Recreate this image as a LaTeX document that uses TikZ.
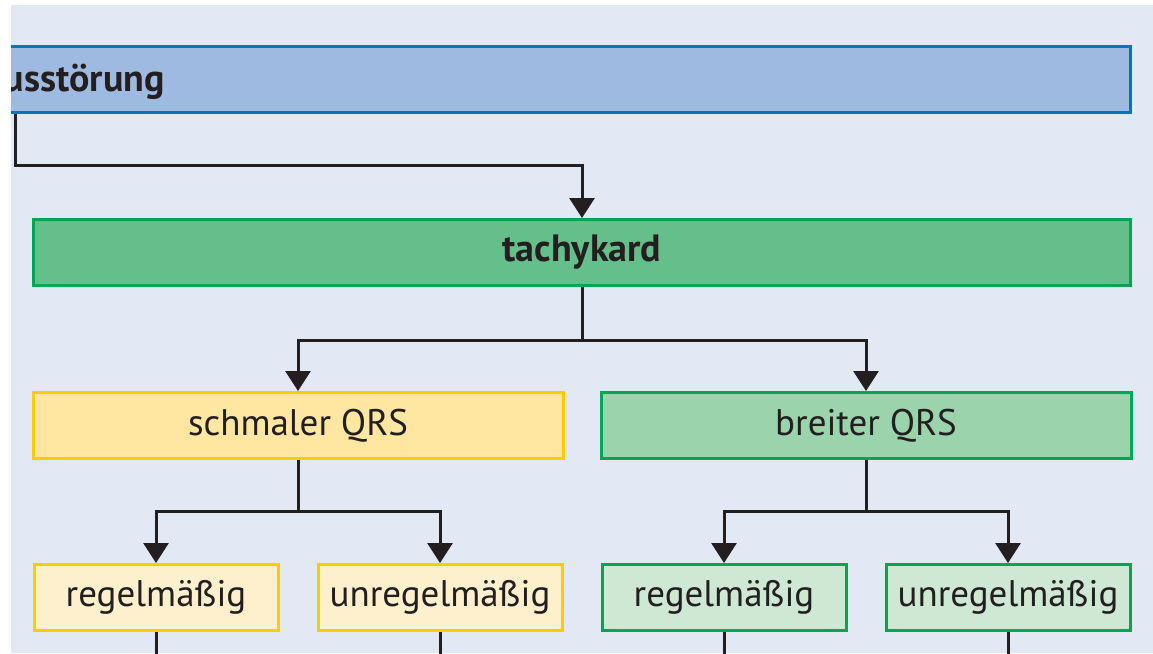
\documentclass[tikz,border=0pt]{standalone}
\usepackage{fontspec}
\setmainfont{PT Sans}
\usetikzlibrary{arrows.meta}

\definecolor{panel}{HTML}{E3E9F4}
\definecolor{ink}{HTML}{231F20}
\definecolor{blueline}{HTML}{0077C0}
\definecolor{bluefill}{HTML}{9EBAE0}
\definecolor{greenline}{HTML}{00A651}
\definecolor{greendark}{HTML}{64BF8A}
\definecolor{greenmid}{HTML}{9BD3AC}
\definecolor{greenlight}{HTML}{CEE8D4}
\definecolor{yellowline}{HTML}{FFCC00}
\definecolor{yellowmid}{HTML}{FFE6A1}
\definecolor{yellowlight}{HTML}{FFF0CD}

\tikzset{
  box/.style={draw, line width=3pt, inner sep=0pt, minimum height=66pt,
    text=ink, font=\fontsize{37}{44}\selectfont},
  boldtext/.style={font=\fontsize{38}{46}\selectfont\bfseries},
  greenbox/.style={box, draw=greenline},
  yellowbox/.style={box, draw=yellowline},
  link/.style={draw=ink, line width=3pt},
  arrowlink/.style={link, -{Triangle[width=25pt,length=20pt]}},
}

\begin{document}
\begin{tikzpicture}[x=1pt,y=-1pt]
  \useasboundingbox (0,0) rectangle (1153,653);
  \fill[white] (0,0) rectangle (1153,653);
  \fill[panel] (11,5) rectangle (1153,653);

  \begin{scope}
    \clip (11,5) rectangle (1153,653);

    % top level
    \node[box, draw=blueline, fill=bluefill, minimum width=1300pt] (rhythm) at (480,79.5) {};
    \node[anchor=base east, inner sep=0pt, text=ink, boldtext] (rhythmtext) at (165,91) {Rhythmusstörung};

    % second level
    \node[greenbox, fill=greendark, minimum width=1097pt, boldtext] (tachy) at (582,252.5) {tachykard};

    % third level
    \node[yellowbox, fill=yellowmid, minimum width=530pt] (schmal) at (298,425.5) {schmaler QRS};
    \node[greenbox, fill=greenmid, minimum width=530pt] (breit) at (866,425.5) {breiter QRS};

    % fourth level
    \node[yellowbox, fill=yellowlight, minimum width=244pt] (sreg) at (156,597.5) {regelmäßig};
    \node[yellowbox, fill=yellowlight, minimum width=244pt] (sunreg) at (440,597.5) {unregelmäßig};
    \node[greenbox, fill=greenlight, minimum width=244pt] (breg) at (724,597.5) {regelmäßig};
    \node[greenbox, fill=greenlight, minimum width=244pt] (bunreg) at (1008,597.5) {unregelmäßig};

    % junction points of the connectors
    \coordinate (j0) at (15,165);
    \coordinate (j1) at (582,340);
    \coordinate (j2) at (298,511);
    \coordinate (j3) at (866,511);
    \coordinate (e1) at (156,670);
    \coordinate (e2) at (440,670);
    \coordinate (e3) at (724,670);
    \coordinate (e4) at (1008,670);

    % connectors
    \draw[arrowlink] (j0 |- rhythm.south) -- (j0) -| (tachy.north);
    \draw[link] (tachy.south) -- (j1);
    \draw[arrowlink] (j1) -| (schmal.north);
    \draw[arrowlink] (j1) -| (breit.north);
    \draw[link] (schmal.south) -- (j2);
    \draw[arrowlink] (j2) -| (sreg.north);
    \draw[arrowlink] (j2) -| (sunreg.north);
    \draw[link] (breit.south) -- (j3);
    \draw[arrowlink] (j3) -| (breg.north);
    \draw[arrowlink] (j3) -| (bunreg.north);
    \draw[link] (sreg.south) -- (e1);
    \draw[link] (sunreg.south) -- (e2);
    \draw[link] (breg.south) -- (e3);
    \draw[link] (bunreg.south) -- (e4);
  \end{scope}
\end{tikzpicture}
\end{document}
